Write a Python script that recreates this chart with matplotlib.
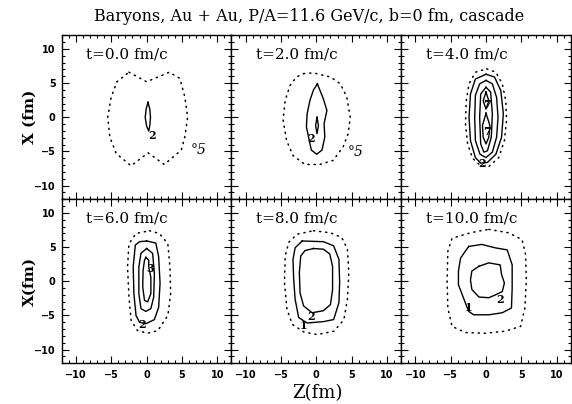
import matplotlib.pyplot as plt
import numpy as np
from matplotlib.ticker import MultipleLocator

# contour outlines, (Z, X) pairs in fm
# t = 0 fm/c
t0_c05 = [(-2.5, 6.6), (0.0, 5.2), (3.2, 6.6), (4.7, 5.7), (5.4, 3.0), (5.8, 0.0),
          (5.4, -2.9), (4.9, -4.8), (2.5, -6.9), (0.2, -5.2), (-2.2, -7.1), (-4.3, -5.3),
          (-5.2, -2.9), (-5.5, 0.0), (-5.0, 3.0), (-4.2, 5.2)]
t0_c2 = [(0.2, 2.2), (0.45, 1.2), (0.55, 0.0), (0.45, -1.2), (0.3, -2.0), (0.0, -1.3),
         (-0.2, 0.0), (-0.05, 1.3)]
# t = 2 fm/c
t2_c05 = [(-1.8, 6.4), (-0.4, 6.5), (2.0, 5.9), (3.4, 4.9), (4.3, 3.0), (4.8, 0.0),
          (4.5, -2.4), (3.8, -4.3), (2.4, -6.3), (0.5, -6.9), (-1.6, -6.9), (-3.3, -5.6),
          (-4.2, -3.4), (-4.7, -0.4), (-4.4, 2.5), (-3.7, 4.7), (-2.8, 5.9)]
t2_c2 = [(0.15, 4.9), (1.0, 2.7), (1.5, 1.0), (1.1, -0.9), (1.2, -2.9), (0.8, -4.8),
         (0.05, -5.4), (-0.7, -4.8), (-1.0, -3.4), (-1.4, -1.4), (-1.3, 0.5), (-0.9, 2.5),
         (-0.4, 4.0)]
t2_c3 = [(0.1, 0.0), (0.3, -1.2), (0.1, -2.4), (-0.1, -1.2)]
# t = 4 fm/c
t4_c05 = [(0.1, 7.1), (1.4, 6.6), (2.3, 4.9), (2.8, 2.4), (2.9, -0.5), (2.6, -3.4),
          (1.8, -5.9), (0.4, -7.2), (-0.75, -7.1), (-1.9, -6.0), (-2.6, -3.9), (-2.9, -1.0),
          (-2.8, 2.4), (-2.4, 4.9), (-1.5, 6.6)]
t4_c1 = [(0.0, 6.3), (1.2, 5.9), (2.1, 3.9), (2.45, 0.5), (2.2, -2.9), (1.4, -5.4),
         (0.2, -6.6), (-0.75, -6.7), (-1.5, -5.9), (-2.2, -3.4), (-2.4, 0.0), (-2.2, 3.4),
         (-1.5, 5.6)]
t4_c2 = [(0.0, 5.4), (0.9, 4.9), (1.5, 2.9), (1.7, 0.0), (1.5, -2.9), (0.9, -5.1),
         (0.0, -5.9), (-0.85, -5.4), (-1.5, -3.4), (-1.6, 0.0), (-1.5, 3.2), (-0.9, 4.9)]
t4_c3 = [(0.0, 4.4), (0.65, 3.7), (0.9, 0.5), (0.75, -2.9), (0.2, -4.9), (-0.3, -5.1),
         (-0.75, -3.9), (-0.9, 0.0), (-0.75, 3.4)]
t4_c7a = [(0.0, 3.7), (0.4, 2.4), (0.0, 1.2), (-0.4, 2.4)]
t4_c7b = [(0.0, 0.6), (0.55, -1.2), (0.4, -2.9), (0.0, -3.9), (-0.4, -2.9), (-0.5, -1.2)]
# t = 6 fm/c
t6_c05 = [(0.4, 7.4), (1.8, 7.0), (3.0, 5.5), (3.3, 2.1), (3.4, -1.8), (3.0, -5.0),
          (1.6, -7.2), (0.15, -7.6), (-1.3, -7.2), (-2.2, -5.7), (-2.5, -2.3), (-2.7, 2.1),
          (-2.5, 5.5), (-1.5, 7.0)]
t6_c2 = [(0.0, 5.9), (1.3, 5.6), (1.7, 3.6), (1.9, -0.3), (1.7, -3.8), (1.1, -5.6),
         (-0.1, -6.2), (-1.0, -6.0), (-1.5, -5.0), (-1.8, -1.8), (-1.9, 2.1), (-1.6, 5.3),
         (-1.0, 5.8)]
t6_c3 = [(0.0, 4.8), (0.85, 4.1), (1.1, 1.1), (1.0, -2.3), (0.6, -4.0), (-0.1, -4.4),
         (-0.8, -4.0), (-1.1, -1.8), (-1.1, 2.1), (-0.8, 4.1)]
t6_c4 = [(-0.1, 3.5), (0.3, 3.1), (0.3, 2.1), (0.6, 0.6), (0.6, -1.8), (0.15, -3.0),
         (-0.3, -2.8), (-0.55, -0.8), (-0.5, 1.6), (-0.3, 3.1)]
# t = 8 fm/c
t8_c05 = [(-0.4, 7.4), (2.0, 7.1), (3.6, 6.4), (4.4, 4.7), (4.6, 1.3), (4.4, -2.6),
          (3.9, -5.6), (2.5, -7.3), (0.1, -7.8), (-1.8, -7.4), (-3.4, -6.3), (-4.15, -4.1),
          (-4.5, -0.2), (-4.4, 3.7), (-3.9, 5.7), (-2.7, 6.9)]
t8_c1 = [(-2.0, 5.9), (1.0, 5.8), (2.45, 5.2), (3.2, 3.2), (3.3, -0.2), (3.2, -3.1),
         (2.45, -5.6), (1.0, -5.9), (-1.3, -6.1), (-2.5, -5.3), (-3.0, -2.6), (-3.2, 0.3),
         (-3.3, 3.2), (-3.0, 4.9)]
t8_c2 = [(-0.4, 4.8), (1.0, 4.7), (1.9, 4.0), (2.3, 2.2), (2.3, -1.2), (2.0, -3.4),
         (1.0, -4.3), (-0.6, -4.6), (-1.8, -3.6), (-2.3, -1.7), (-2.4, 1.3), (-2.2, 3.7),
         (-1.6, 4.5)]
# t = 10 fm/c
t10_c05 = [(0.4, 7.6), (3.2, 7.1), (5.1, 6.1), (5.6, 3.9), (5.7, 0.0), (5.5, -3.9),
           (4.9, -6.6), (2.7, -7.3), (-0.1, -7.6), (-2.9, -7.5), (-4.8, -6.6), (-5.4, -3.9),
           (-5.5, 0.0), (-5.4, 4.4), (-4.8, 6.3), (-2.9, 6.9), (-1.3, 7.3)]
t10_c1 = [(-2.45, 5.1), (-0.6, 5.4), (1.3, 4.9), (3.0, 4.6), (3.7, 2.4), (3.7, -1.0),
          (3.6, -3.9), (2.3, -4.6), (0.4, -4.9), (-1.75, -4.9), (-2.45, -4.4), (-3.2, -2.4),
          (-3.9, -0.5), (-3.9, 1.5), (-3.6, 3.4)]
t10_c2 = [(-1.0, 2.2), (0.4, 2.7), (2.0, 2.4), (2.2, 1.0), (2.6, -0.25), (2.3, -1.5),
          (1.3, -2.0), (0.4, -2.4), (-1.0, -2.3), (-2.0, -1.2), (-2.2, 0.2), (-2.0, 1.5)]

times = ["0.0", "2.0", "4.0", "6.0", "8.0", "10.0"]
dotted = [t0_c05, t2_c05, t4_c05, t6_c05, t8_c05, t10_c05]
solid = [[t0_c2], [t2_c2, t2_c3], [t4_c1, t4_c2, t4_c3, t4_c7a, t4_c7b],
         [t6_c2, t6_c3, t6_c4], [t8_c1, t8_c2], [t10_c1, t10_c2]]
# contour labels: (text, Z, X)
labels = [[("\u00b05", 7.4, -4.8), ("2", 0.75, -2.7)],
          [("\u00b05", 5.5, -5.1), ("2", -0.7, -3.1)],
          [("2", -0.5, -6.8), ("7", 0.2, 1.9), ("7", 0.2, -2.1)],
          [("2", -0.6, -6.3), ("3", 0.5, 1.9)],
          [("1", -1.8, -6.5), ("2", -0.75, -5.2)],
          [("1", -2.45, -3.9), ("2", 2.0, -2.7)]]

plt.rcParams['font.family'] = ['DejaVu Serif']

fig, axes = plt.subplots(2, 3, figsize=(5.72, 4.04), dpi=100, sharex=True, sharey=True)
fig.subplots_adjust(left=0.108, right=0.998, bottom=0.1007, top=0.9126,
                    wspace=0, hspace=0)

for i, ax in enumerate(axes.flat):
    pts = np.array(dotted[i] + dotted[i][:1])
    ax.plot(pts[:, 0], pts[:, 1], color='k', lw=1.1, linestyle=(0, (0.8, 3.2)),
            dash_capstyle='round')
    for c in solid[i]:
        pts = np.array(c + c[:1])
        ax.plot(pts[:, 0], pts[:, 1], color='k', lw=1.0)
    for txt, z, x in labels[i]:
        if txt == "\u00b05":
            ax.text(z, x, txt, fontsize=10, style='italic', ha='center', va='center')
        else:
            ax.text(z, x, txt, fontsize=8, fontweight='bold', ha='center', va='center')
    ax.text(0.145, 0.885, "t=%s fm/c" % times[i], transform=ax.transAxes,
            fontsize=11, ha='left', va='center')

    ax.set_xlim(-12, 12)
    ax.set_ylim(-12, 12)
    ax.set_xticks([-10, -5, 0, 5, 10])
    ax.set_yticks([-10, -5, 0, 5, 10])
    ax.xaxis.set_minor_locator(MultipleLocator(1))
    ax.yaxis.set_minor_locator(MultipleLocator(1))
    ax.tick_params(which='both', direction='in', top=True, right=True, width=0.8)
    ax.tick_params(which='major', length=5, labelsize=7, pad=4.5)
    ax.tick_params(which='minor', length=2.5)
    for lab in ax.get_xticklabels() + ax.get_yticklabels():
        lab.set_family('DejaVu Sans')
        lab.set_fontweight('bold')
    for s in ax.spines.values():
        s.set_linewidth(1.0)

fig.text(0.54, 0.958, "Baryons, Au + Au, P/A=11.6 GeV/c, b=0 fm, cascade",
         ha='center', va='center', fontsize=11.5)
fig.text(0.052, 0.71, "X (fm)", rotation=90, ha='center', va='center',
         fontsize=11, fontweight='bold')
fig.text(0.052, 0.304, "X(fm)", rotation=90, ha='center', va='center',
         fontsize=11, fontweight='bold')
fig.text(0.555, 0.027, "Z(fm)", ha='center', va='center', fontsize=13)

fig.savefig("out.png", dpi=100)
